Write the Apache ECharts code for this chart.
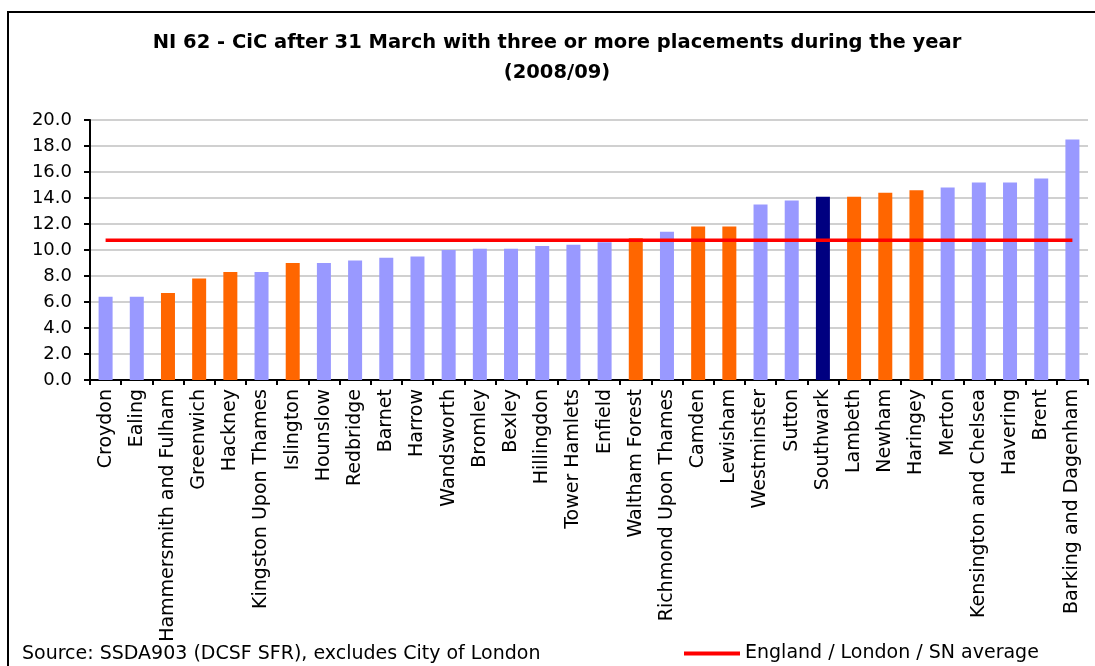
<!DOCTYPE html>
<html>
<head>
<meta charset="utf-8">
<script src="https://cdn.jsdelivr.net/npm/echarts@6/dist/echarts.min.js"></script>
<style>
html,body{margin:0;padding:0;background:#fff;}
#chart{width:1095px;height:666px;}
</style>
</head>
<body>
<div id="chart"></div>
<script>
const titleText = 'NI 62 - CiC after 31 March with three or more placements during the year\n(2008/09)';
const categories = ['Croydon','Ealing','Hammersmith and Fulham','Greenwich','Hackney','Kingston Upon Thames','Islington','Hounslow','Redbridge','Barnet','Harrow','Wandsworth','Bromley','Bexley','Hillingdon','Tower Hamlets','Enfield','Waltham Forest','Richmond Upon Thames','Camden','Lewisham','Westminster','Sutton','Southwark','Lambeth','Newham','Haringey','Merton','Kensington and Chelsea','Havering','Brent','Barking and Dagenham'];
const values = [6.4,6.4,6.7,7.8,8.3,8.3,9.0,9.0,9.2,9.4,9.5,10.0,10.1,10.1,10.3,10.4,10.6,10.9,11.4,11.8,11.8,13.5,13.8,14.1,14.1,14.4,14.6,14.8,15.2,15.2,15.5,18.5];
// group: L = London borough, N = statistical neighbour, S = Southwark
const groups = ['L','L','N','N','N','L','N','L','L','L','L','L','L','L','L','L','L','N','L','N','N','L','L','S','N','N','N','L','L','L','L','L'];
const averageValue = 10.75;
const averageName = 'England / London / SN average';
const sourceText = 'Source: SSDA903 (DCSF SFR), excludes City of London';
const yTicks = [0,2,4,6,8,10,12,14,16,18,20];

const groupColors = {L:'#9999FF', N:'#FF6600', S:'#000080'};
const FONT = 'DejaVu Sans';

const chart = echarts.init(document.getElementById('chart'));
chart.setOption({
  animation:false,
  backgroundColor:'#ffffff',
  title:{
    text:titleText,
    left:557, top:28, textAlign:'center', padding:0,
    textStyle:{fontFamily:FONT, fontSize:19.5, fontWeight:'bold', color:'#000', lineHeight:30}
  },
  grid:{left:90, right:7, top:120, bottom:286, containLabel:false},
  legend:{
    data:[averageName],
    left:684, top:644, padding:0,
    icon:'rect', itemWidth:56, itemHeight:4,
    textStyle:{fontFamily:FONT, fontSize:19, color:'#000'}
  },
  xAxis:{
    type:'category', data:categories,
    axisLine:{lineStyle:{color:'#000', width:2}},
    axisTick:{show:true, length:5, lineStyle:{color:'#000', width:2}},
    axisLabel:{rotate:90, margin:9, interval:0, fontFamily:FONT, fontSize:19, color:'#000'}
  },
  yAxis:{
    type:'value', min:yTicks[0], max:yTicks[yTicks.length-1], interval:2,
    axisLine:{show:true, lineStyle:{color:'#000', width:2}},
    axisTick:{show:true, length:6, lineStyle:{color:'#000', width:2}},
    axisLabel:{margin:18, fontFamily:FONT, fontSize:18, color:'#000', formatter:v=>v.toFixed(1)},
    splitLine:{show:true, lineStyle:{color:'#c0c0c0', width:1.5}}
  },
  series:[
    {
      name:'NI 62', type:'bar', barWidth:14,
      data:values.map((v,i)=>({value:v, itemStyle:{color:groupColors[groups[i]]}}))
    },
    {
      name:averageName, type:'line', showSymbol:false, symbol:'none',
      data:categories.map(()=>averageValue),
      lineStyle:{color:'#FF0000', width:3.5},
      itemStyle:{color:'#FF0000'}, z:5
    }
  ],
  graphic:[
    {type:'rect', shape:{x:8, y:12, width:1200, height:800}, style:{fill:'none', stroke:'#000', lineWidth:2}, silent:true},
    {type:'text', x:22, y:654, style:{text:sourceText, fontFamily:FONT, fontSize:19, fill:'#000', textVerticalAlign:'middle', verticalAlign:'middle'}}
  ]
});
</script>
</body>
</html>
